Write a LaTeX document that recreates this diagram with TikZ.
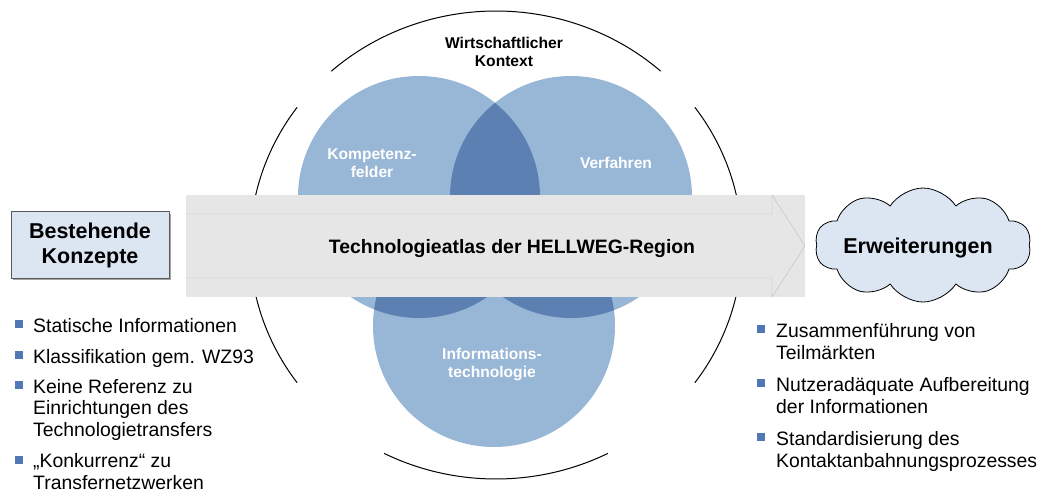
\documentclass[tikz,border=0pt]{standalone}
\usepackage{fontspec}
\setmainfont{Liberation Sans}
\usetikzlibrary{shapes.symbols}
\definecolor{vennlight}{RGB}{152,182,214}
\definecolor{venndark}{RGB}{93,128,179}
\definecolor{boxblue}{RGB}{220,230,242}
\definecolor{bulletblue}{RGB}{79,120,180}
\definecolor{arrowfill}{RGB}{230,230,230}
\definecolor{arrowedge}{RGB}{190,190,190}
\begin{document}
\begin{tikzpicture}[x=1pt, y=-1pt, line join=round, line cap=round,
	itemtext/.style={anchor=base west, align=left, inner sep=0pt, font=\fontsize{19.4}{21.5}\selectfont},
	bullet/.style={fill=bulletblue, minimum size=7.5pt, inner sep=0pt},
	venntext/.style={anchor=base, align=center, inner sep=0pt, text=white, font=\fontsize{15.6}{18}\selectfont\bfseries},
	bigtext/.style={font=\fontsize{21.5}{25}\selectfont\bfseries, align=center, inner sep=0pt}]
	\def\rx{246} \def\ry{234} \def\rv{121pt}
	\useasboundingbox (0,0) rectangle (1038,492);
	% ring of the economic context
	\foreach \a/\b in {48/132, 144/216, 243/297, -36/36}
		\draw[line width=1pt, smooth, samples=60, domain=\a:\b] plot({496+\rx*cos(\x)},{245-\ry*sin(\x)});
	% three circles
	\coordinate (kf) at (419,197);
	\coordinate (vf) at (571,197);
	\coordinate (it) at (494,326);
	\fill[vennlight] (kf) circle (\rv) (vf) circle (\rv) (it) circle (\rv);
	\begin{scope}
		\clip (kf) circle (\rv);
		\fill[venndark] (vf) circle (\rv) (it) circle (\rv);
	\end{scope}
	\begin{scope}
		\clip (vf) circle (\rv);
		\fill[venndark] (it) circle (\rv);
	\end{scope}
	% labels, base = last line
	\node[anchor=base, align=center, inner sep=0pt, font=\fontsize{15.6}{18}\selectfont\bfseries] (ctx) at (504,67) {Wirtschaftlicher\\Kontext};
	\node[venntext] (kompetenz) at (372,177) {Kompetenz-\\felder};
	\node[venntext] (verfahren) at (616,168) {Verfahren};
	\node[venntext] (infotech) at (492,377) {Informations-\\technologie};
	% big arrow
	\fill[arrowfill] (186,195) rectangle (805,297);
	\draw[arrowedge, fill=arrowfill] (186,214) -- (772,214) -- (772,195) -- (805,246) -- (772,297) -- (772,278) -- (186,278);
	\node[font=\fontsize{19.4}{22}\selectfont\bfseries, anchor=base, inner sep=0pt] (atlas) at (512,253) {Technologieatlas der HELLWEG-Region};
	% left box and cloud
	\fill[gray!70] (12.5,213.5) rectangle (171,280);
	\node[bigtext, fill=boxblue, draw=black!65, line width=0.8pt, minimum width=158pt, minimum height=67pt] (konzepte) at (90,245) {Bestehende\\Konzepte};
	\node[bigtext, cloud, cloud puffs=10, cloud puff arc=115, cloud ignores aspect, draw=black, line width=0.8pt, fill=boxblue, minimum width=216pt, minimum height=114pt] (erweit) at (923,245) {};
	\node[bigtext, anchor=base] (erweitext) at (918,253) {Erweiterungen};
	% left list
	\node[itemtext] (l1) at (33,332) {Statische Informationen};
	\node[itemtext] (l2) at (33,363) {Klassifikation gem. WZ93};
	\node[itemtext] (l3) at (33,436) {Keine Referenz zu\\Einrichtungen des\\Technologietransfers};
	\node[itemtext] (l4) at (33,489) {„Konkurrenz“ zu\\Transfernetzwerken};
	\foreach \i/\y in {l1/324, l2/355, l3/385, l4/460}
		\node[bullet] (b\i) at (19,\y) {};
	% right list
	\node[itemtext] (r1) at (776,359) {Zusammenführung von\\Teilmärkten};
	\node[itemtext] (r2) at (776,413) {Nutzeradäquate Aufbereitung\\der Informationen};
	\node[itemtext] (r3) at (776,467) {Standardisierung des\\Kontaktanbahnungsprozesses};
	\foreach \i/\y in {r1/329, r2/383, r3/437}
		\node[bullet] (b\i) at (761,\y) {};
\end{tikzpicture}
\end{document}
